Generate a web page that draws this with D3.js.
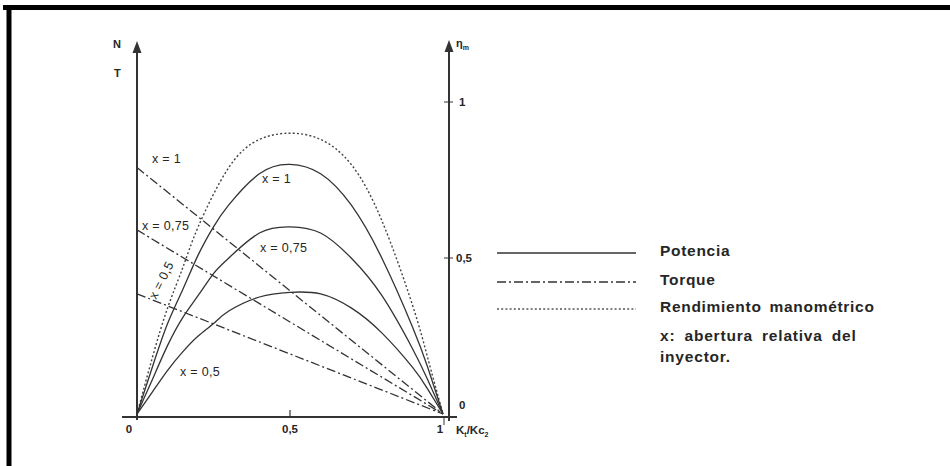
<!DOCTYPE html>
<html>
<head>
<meta charset="utf-8">
<script src="https://cdn.jsdelivr.net/npm/d3@7"></script>
<style>
  body { margin: 0; background: #fff; }
  svg text { font-family: "Liberation Sans", Arial, sans-serif; fill: #262626; }
</style>
</head>
<body>
<div id="chart"></div>
<script>
// K/Kc2 sample points
var kPow = [0, 0.05, 0.1, 0.15, 0.2, 0.25, 0.3, 0.4, 0.5, 0.6, 0.7, 0.8, 0.9, 0.95, 1];
// potencia (solid) for x = 1, 0.75, 0.5
var powX1   = [0, 0.15, 0.29, 0.40, 0.51, 0.60, 0.67, 0.77, 0.80, 0.77, 0.67, 0.50, 0.28, 0.15, 0];
var powX075 = [0, 0.11, 0.22, 0.31, 0.38, 0.45, 0.50, 0.58, 0.60, 0.58, 0.50, 0.38, 0.21, 0.11, 0];
var powX05  = [0, 0.07, 0.14, 0.20, 0.25, 0.29, 0.33, 0.375, 0.39, 0.385, 0.34, 0.26, 0.15, 0.08, 0];
// rendimiento manometrico (dotted)
var kEta = [0, 0.05, 0.1, 0.15, 0.2, 0.3, 0.4, 0.5, 0.6, 0.7, 0.8, 0.9, 0.95, 1];
var eta  = [0, 0.18, 0.34, 0.47, 0.60, 0.79, 0.88, 0.90, 0.88, 0.80, 0.62, 0.35, 0.18, 0];
// torque (dash-dot) straight lines
var kTorque = [0, 1];
var torX1   = [0.79, 0];
var torX075 = [0.59, 0];
var torX05  = [0.385, 0];

var xTicks = [0, 0.5, 1];
var xTickLabels = ["0", "0,5", "1"];
var etaTicks = [0, 0.5, 1];
var etaTickLabels = ["0", "0,5", "1"];
var legendLabels = ["Potencia", "Torque", "Rendimiento  manométrico"];
var noteLines = ["x: abertura relativa del", "inyector."];

var width = 950, height = 466;
var svg = d3.select("#chart").append("svg")
  .attr("width", width)
  .attr("height", height);

// frame (top and left border only visible)
svg.append("line").attr("x1", 3).attr("y1", 7.5).attr("x2", 950).attr("y2", 7.5)
  .attr("stroke", "#000").attr("stroke-width", 5);
svg.append("line").attr("x1", 9).attr("y1", 5).attr("x2", 9).attr("y2", 466)
  .attr("stroke", "#000").attr("stroke-width", 5);

var x = d3.scaleLinear().domain([0, 1]).range([137, 443]);
var y = d3.scaleLinear().domain([0, 1]).range([414, 102]);

var ink = "#333";
var leftX = x(0), rightX = 449, baseY = 417;

// axes
svg.append("line").attr("x1", 122).attr("y1", baseY).attr("x2", 457).attr("y2", baseY)
  .attr("stroke", ink).attr("stroke-width", 2);
svg.append("line").attr("x1", leftX).attr("y1", 420).attr("x2", leftX).attr("y2", 50)
  .attr("stroke", ink).attr("stroke-width", 2);
svg.append("line").attr("x1", rightX).attr("y1", 421).attr("x2", rightX).attr("y2", 48)
  .attr("stroke", ink).attr("stroke-width", 2);

function arrow(cx, tip) {
  svg.append("path")
    .attr("d", "M" + cx + "," + tip + "L" + (cx - 4.5) + "," + (tip + 12) + "L" + (cx + 4.5) + "," + (tip + 12) + "Z")
    .attr("fill", ink);
}
arrow(leftX, 41);
arrow(rightX, 40);

// x ticks
svg.append("line").attr("x1", x(0.5)).attr("x2", x(0.5)).attr("y1", baseY).attr("y2", baseY - 7)
  .attr("stroke", ink).attr("stroke-width", 1.2);
svg.append("line").attr("x1", x(1) + 1).attr("x2", x(1) + 1).attr("y1", baseY + 1).attr("y2", baseY + 8)
  .attr("stroke", ink).attr("stroke-width", 1);

svg.selectAll(".xlab").data(xTicks).enter().append("text")
  .attr("class", "xlab")
  .attr("x", function(d) { return d === 0 ? x(d) - 8 : (d === 1 ? x(d) - 3 : x(d)); })
  .attr("y", 433)
  .attr("text-anchor", "middle")
  .attr("font-size", 11.5)
  .attr("font-weight", "bold")
  .text(function(d, i) { return xTickLabels[i]; });

var xName = svg.append("text").attr("x", 456).attr("y", 434)
  .attr("font-size", 11.5).attr("font-weight", "bold");
xName.append("tspan").text("K");
xName.append("tspan").attr("font-size", 7).attr("dy", 3).text("t");
xName.append("tspan").attr("dy", -3).text("/Kc");
xName.append("tspan").attr("font-size", 7).attr("dy", 3).text("2");

// eta ticks on right axis
svg.selectAll(".etick").data(etaTicks.filter(function(d) { return d > 0; })).enter().append("line")
  .attr("x1", rightX - 5).attr("x2", rightX + 4)
  .attr("y1", function(d) { return y(d); }).attr("y2", function(d) { return y(d); })
  .attr("stroke", ink).attr("stroke-width", 1);
svg.selectAll(".elab").data(etaTicks).enter().append("text")
  .attr("x", function(d) { return d === 0.5 ? 456 : 459; })
  .attr("y", function(d) { return d === 0 ? 409 : y(d) + 4; })
  .attr("font-size", 11.5)
  .attr("font-weight", "bold")
  .text(function(d, i) { return etaTickLabels[i]; });

// axis names
svg.append("text").attr("x", 113).attr("y", 48).attr("font-size", 11).attr("font-weight", "bold").text("N");
svg.append("text").attr("x", 114).attr("y", 77).attr("font-size", 11).attr("font-weight", "bold").text("T");
var etaName = svg.append("text").attr("x", 456).attr("y", 47).attr("font-size", 11).attr("font-weight", "bold");
etaName.append("tspan").text("η");
etaName.append("tspan").attr("font-size", 7).attr("dy", 3).text("m");

// series
var line = d3.line()
  .x(function(d) { return x(d[0]); })
  .y(function(d) { return y(d[1]); })
  .curve(d3.curveNatural);

function series(ks, vs, dash, w, col) {
  svg.append("path")
    .datum(ks.map(function(k, i) { return [k, vs[i]]; }))
    .attr("d", line)
    .attr("fill", "none")
    .attr("stroke", col || ink)
    .attr("stroke-width", w || 1.3)
    .attr("stroke-dasharray", dash || null);
}

var torDash = "9,3,2,3";
var etaDash = "2,2.2";

series(kEta, eta, etaDash, 1.4, "#444");
series(kPow, powX1);
series(kPow, powX075);
series(kPow, powX05);
series(kTorque, torX1, torDash, 1.3);
series(kTorque, torX075, torDash, 1.3);
series(kTorque, torX05, torDash, 1.3);

// curve labels
function label(tx, ty, t, rot) {
  var el = svg.append("text").attr("x", tx).attr("y", ty)
    .attr("font-size", 12.5).attr("letter-spacing", 0.3).text(t);
  if (rot) el.attr("transform", "rotate(" + rot + "," + tx + "," + ty + ")");
}
label(152, 163, "x = 1");
label(142, 230, "x = 0,75");
label(156, 300, "x = 0,5", -63);
label(180, 376, "x = 0,5");
label(262, 183, "x = 1");
label(260, 252, "x = 0,75");

// legend
var legendY = [253, 282, 309];
var legendDash = [null, torDash, etaDash];
legendY.forEach(function(ly, i) {
  svg.append("line").attr("x1", 497).attr("x2", 636).attr("y1", ly).attr("y2", ly)
    .attr("stroke", i === 2 ? "#555" : ink).attr("stroke-width", 1.4)
    .attr("stroke-dasharray", legendDash[i]);
  svg.append("text").attr("x", 660).attr("y", ly + 3)
    .attr("font-size", 15.5).attr("font-weight", "bold").attr("letter-spacing", 0.7)
    .attr("word-spacing", 3)
    .text(legendLabels[i]);
});
noteLines.forEach(function(t, i) {
  svg.append("text").attr("x", 660).attr("y", 341 + i * 21)
    .attr("font-size", 15.5).attr("font-weight", "bold").attr("letter-spacing", 0.8)
    .attr("word-spacing", 4)
    .text(t);
});
</script>
</body>
</html>
